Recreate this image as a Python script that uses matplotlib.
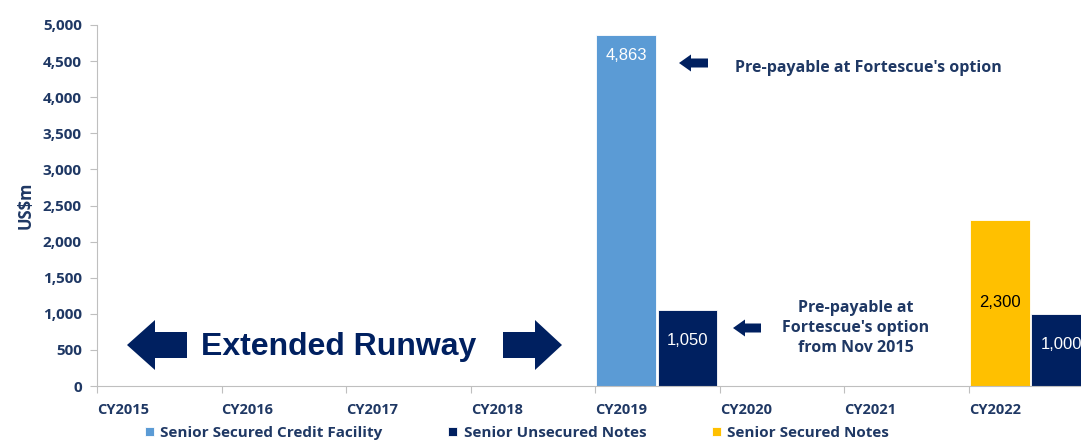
import numpy as np
import matplotlib
matplotlib.use("Agg")
import matplotlib.pyplot as plt
from matplotlib.patches import Polygon

years = ["CY2015", "CY2016", "CY2017", "CY2018", "CY2019", "CY2020", "CY2021", "CY2022"]
# facility amounts by maturity year (US$m)
sscf = [0, 0, 0, 0, 4863, 0, 0, 0]
sun = [0, 0, 0, 0, 1050, 0, 0, 1000]
ssn = [0, 0, 0, 0, 0, 0, 0, 2300]

NAVY = "#002060"
LBLUE = "#5B9BD5"
GOLD = "#FFC000"
TXT = "#1F3864"

W, H = 1081, 442
fig = plt.figure(figsize=(W / 100, H / 100), dpi=100)
ax = fig.add_axes([97 / W, 1 - 386 / H, (1081 - 97) / W, (386 - 25) / H])

x = np.arange(len(years))
bw = 0.48
# first slot: credit facility or secured notes, second slot: unsecured notes
b1 = ax.bar(x + 0.01, sscf, bw, align="edge", color=LBLUE, edgecolor="white", lw=0.6)
b3 = ax.bar(x + 0.01, ssn, bw, align="edge", color=GOLD, edgecolor="white", lw=0.6)
b2 = ax.bar(x + 0.5, sun, bw, align="edge", color=NAVY, edgecolor="white", lw=0.6)

lab = dict(ha="center", va="center", fontsize=12, family="Liberation Sans")
for i in range(len(years)):
    if sscf[i]:
        ax.text(x[i] + 0.01 + bw / 2, sscf[i] - 280, f"{sscf[i]:,}", color="white", **lab)
    if ssn[i]:
        ax.text(x[i] + 0.01 + bw / 2, ssn[i] / 2, f"{ssn[i]:,}", color="black", **lab)
    if sun[i]:
        ax.text(x[i] + 0.5 + bw / 2, sun[i] - 420, f"{sun[i]:,}", color="white", **lab)

ax.set_xlim(0, 7.9)
ax.set_ylim(0, 5000)
ax.set_yticks(np.arange(0, 5001, 500))
ax.set_yticklabels([f"{v:,}" for v in range(0, 5001, 500)], fontsize=11,
                   fontweight="bold", color=TXT, family="Open Sans")
ax.set_xticks(x)
ax.set_xticklabels(years, ha="left", fontsize=10.5, fontweight="bold", color=TXT,
                   family="Open Sans")
ax.tick_params(axis="x", length=5, color="#BFBFBF", pad=7)
ax.tick_params(axis="y", length=5, color="#BFBFBF", pad=6)
for s in ["top", "right"]:
    ax.spines[s].set_visible(False)
for s in ["left", "bottom"]:
    ax.spines[s].set_color("#BFBFBF")
ax.set_ylabel("US$m", fontsize=12, fontweight="bold", color=TXT, family="Open Sans",
              labelpad=6)

leg = ax.legend([b1, b2, b3], ["Senior Secured Credit Facility", "Senior Unsecured Notes",
                               "Senior Secured Notes"],
                loc="center left", bbox_to_anchor=(0.038, -0.13), ncol=3, frameon=False,
                handlelength=0.6, handleheight=0.6, handletextpad=0.4, columnspacing=4.3,
                borderpad=0.2, prop={"family": "Open Sans", "weight": "bold", "size": 11})
for t in leg.get_texts():
    t.set_color(TXT)

# overlay in pixel units for the arrows and notes
ov = fig.add_axes([0, 0, 1, 1], zorder=5)
ov.set_xlim(0, W)
ov.set_ylim(H, 0)
ov.axis("off")


def arrow(tip, y, head, shaft, hh, sh, direction):
    d = direction
    pts = [(tip, y), (tip + d * head, y - hh / 2), (tip + d * head, y - sh / 2),
           (tip + d * (head + shaft), y - sh / 2), (tip + d * (head + shaft), y + sh / 2),
           (tip + d * head, y + sh / 2), (tip + d * head, y + hh / 2)]
    ov.add_patch(Polygon(pts, closed=True, color=NAVY, lw=0))


arrow(127, 345, 28, 32, 50, 26, 1)
arrow(562, 345, 27, 32, 50, 26, -1)
arrow(679, 63, 12, 17, 17, 9, 1)
arrow(733, 328, 12, 16, 17, 9, 1)

ov.text(339, 347, "Extended Runway", fontsize=23, fontweight="bold", color=NAVY,
        family="Liberation Sans", ha="center", va="center")
ov.text(868, 68, "Pre-payable at Fortescue's option", fontsize=11.5, fontweight="bold",
        color=TXT, family="Open Sans", ha="center", va="center")
ov.text(856, 328, "Pre-payable at\nFortescue's option\nfrom Nov 2015", fontsize=11.5,
        fontweight="bold", color=TXT, family="Open Sans", ha="center", va="center",
        linespacing=1.35)

fig.savefig("out.png", dpi=100)
